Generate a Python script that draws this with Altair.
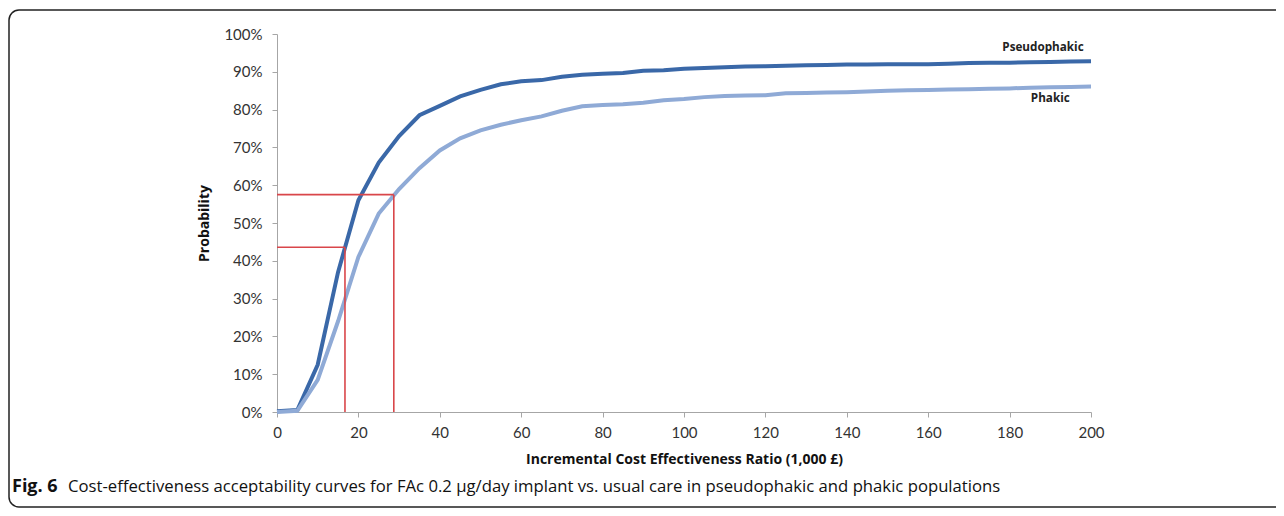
import altair as alt
import pandas as pd

# ICER thresholds (1,000 £)
icer = [0, 5, 10, 15, 20, 25, 30, 35, 40, 45, 50, 55, 60, 65, 70, 75, 80, 85, 90, 95,
        100, 105, 110, 115, 120, 125, 130, 135, 140, 145, 150, 155, 160, 165, 170, 175,
        180, 185, 190, 195, 200]

pseudophakic = [0.2, 0.5, 12.5, 37.0, 56.0, 66.0, 73.0, 78.5, 81.0, 83.5, 85.2, 86.7,
                87.5, 87.8, 88.7, 89.2, 89.5, 89.7, 90.3, 90.4, 90.8, 91.0, 91.2, 91.4,
                91.5, 91.6, 91.7, 91.8, 91.9, 91.9, 92.0, 92.0, 92.0, 92.1, 92.3, 92.4,
                92.4, 92.5, 92.6, 92.7, 92.8]

phakic = [0.0, 0.3, 8.5, 24.0, 41.0, 52.5, 59.0, 64.5, 69.2, 72.4, 74.5, 76.0, 77.2,
          78.2, 79.7, 80.9, 81.2, 81.4, 81.8, 82.5, 82.8, 83.3, 83.6, 83.7, 83.8, 84.3,
          84.4, 84.5, 84.6, 84.8, 85.0, 85.1, 85.2, 85.3, 85.4, 85.5, 85.6, 85.8, 85.9,
          86.0, 86.1]

series_names = ["Pseudophakic", "Phakic"]
series_colors = ["#3A68A8", "#8FAAD6"]

# reference lines (threshold ICER, probability)
ref_x = [16.7, 28.7]
ref_y = [43.6, 57.5]

label_x = [188.2, 190.0]
label_y = [96.6, 83.1]

x_ticks = list(range(0, 201, 20))
y_ticks = list(range(0, 101, 10))

caption_bold = "Fig. 6"
caption_rest = ("Cost-effectiveness acceptability curves for FAc 0.2 \u00b5g/day implant "
                "vs. usual care in pseudophakic and phakic populations")

rows = []
for i, x in enumerate(icer):
    rows.append({"icer": x, "prob": pseudophakic[i], "series": series_names[0]})
    rows.append({"icer": x, "prob": phakic[i], "series": series_names[1]})
df = pd.DataFrame(rows)

ref_df = pd.DataFrame({"x0": [0, 0], "x": ref_x, "y0": [0, 0], "y": ref_y})
lab_df = pd.DataFrame({"x": label_x, "y": label_y, "label": series_names})

W, H = 814, 378
PL, PT, PR, PB = 269, 26, 185, 96

xscale = alt.Scale(domain=[0, 200], nice=False, zero=True)
yscale = alt.Scale(domain=[0, 100], nice=False)

FONT = "Lato"
axis_common = dict(
    domainColor="#A6A6A6", tickColor="#A6A6A6", tickSize=5, grid=False,
    labelFont=FONT, labelFontSize=15, labelColor="#333333",
    labelOverlap=False, labelFlush=False,
    titleFont="Open Sans", titleFontWeight="bold", titleFontSize=14, titleColor="#111111",
)
x_axis = alt.Axis(values=x_ticks, tickCount=len(x_ticks),
                  title="Incremental Cost Effectiveness Ratio (1,000 \u00a3)",
                  labelPadding=8, titlePadding=12, **axis_common)
y_axis = alt.Axis(values=y_ticks, tickCount=len(y_ticks), labelExpr="datum.value + '%'",
                  title="Probability", labelPadding=10, titlePadding=12, **axis_common)

base = alt.Chart(df)

lines = base.mark_line(strokeWidth=4).encode(
    x=alt.X("icer:Q", scale=xscale, axis=x_axis),
    y=alt.Y("prob:Q", scale=yscale, axis=y_axis),
    color=alt.Color("series:N", scale=alt.Scale(domain=series_names, range=series_colors), legend=None),
    strokeWidth=alt.StrokeWidth("series:N", scale=alt.Scale(domain=series_names, range=[4.2, 3.5]), legend=None),
)

hrules = alt.Chart(ref_df).mark_rule(color="#D9464A", strokeWidth=1.6).encode(
    x=alt.X("x0:Q", scale=xscale, axis=x_axis), x2="x:Q", y=alt.Y("y:Q", scale=yscale, axis=y_axis)
)
vrules = alt.Chart(ref_df).mark_rule(color="#D9464A", strokeWidth=1.6).encode(
    x=alt.X("x:Q", scale=xscale, axis=x_axis), y=alt.Y("y0:Q", scale=yscale, axis=y_axis), y2="y:Q"
)

labels = alt.Chart(lab_df).mark_text(font="Open Sans", fontWeight="bold", fontSize=11.7,
                                     color="#222222", align="center", baseline="middle").encode(
    x=alt.X("x:Q", scale=xscale, axis=x_axis), y=alt.Y("y:Q", scale=yscale, axis=y_axis), text="label:N"
)

one = pd.DataFrame({"a": [0]})
border = alt.Chart(one).mark_rect(fill=None, stroke="#222222", strokeWidth=1.5, cornerRadius=10).encode(
    x=alt.value(-PL + 1), x2=alt.value(W + PR + 20),
    y=alt.value(-PT + 2), y2=alt.value(H + PB - 1),
)

cap_y = 487 - 8 - PT
cap1 = alt.Chart(one).mark_text(font="Open Sans", fontWeight="bold", fontSize=18,
                                align="left", baseline="middle", color="#111111").encode(
    x=alt.value(-PL + 4), y=alt.value(cap_y), text=alt.value(caption_bold)
)
cap2 = alt.Chart(one).mark_text(font="Open Sans", fontSize=16.7,
                                align="left", baseline="middle", color="#111111").encode(
    x=alt.value(-PL + 60), y=alt.value(cap_y), text=alt.value(caption_rest)
)

chart = alt.layer(lines, border, hrules, vrules, labels, cap1, cap2).properties(
    width=W, height=H,
    padding={"left": PL, "top": PT, "right": PR, "bottom": PB},
    autosize=alt.AutoSizeParams(type="none"),
    background="white",
).configure_view(stroke=None)

chart.save("out.html", embed_options={"renderer": "svg", "actions": False})
